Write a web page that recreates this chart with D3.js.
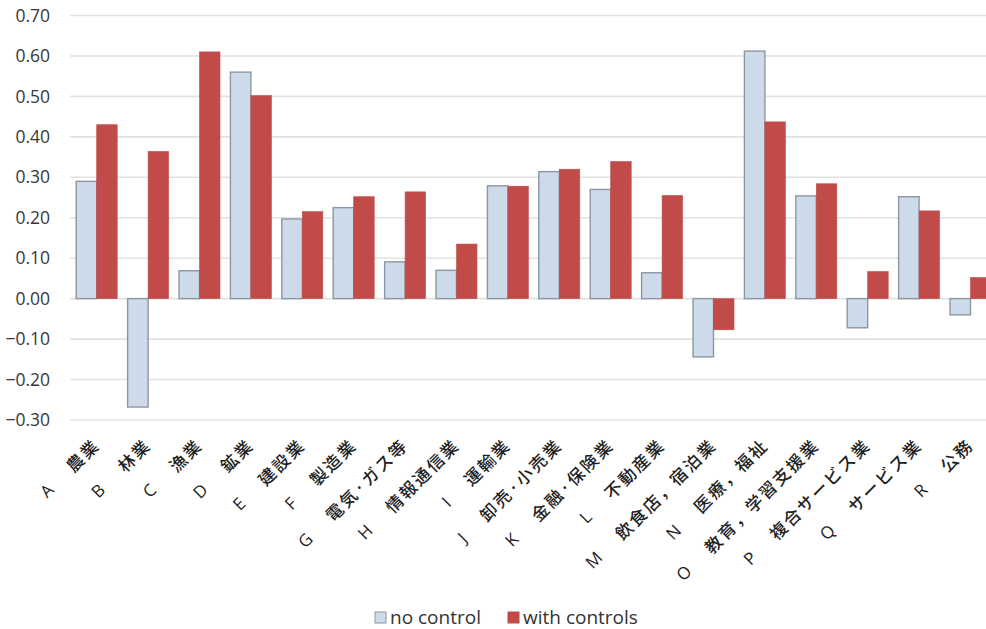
<!DOCTYPE html>
<html>
<head>
<meta charset="utf-8">
<script src="https://cdn.jsdelivr.net/npm/d3@7"></script>
<style>
  html, body { margin: 0; padding: 0; background: #fff; }
  svg { display: block; }
</style>
</head>
<body>
<svg id="chart" width="986" height="629"></svg>
<script>
// Industry codes and names (Japanese Standard Industrial Classification)
const codes = ["A","B","C","D","E","F","G","H","I","J","K","L","M","N","O","P","Q","R"];
const names = ["農業","林業","漁業","鉱業","建設業","製造業","電気·ガス等","情報通信業","運輸業",
  "卸売·小売業","金融·保険業","不動産業","飲食店，宿泊業","医療，福祉","教育，学習支援業",
  "複合サービス業","サービス業","公務"];

// Estimated coefficients per industry
const noControl    = [0.29, -0.268, 0.069, 0.56, 0.197, 0.225, 0.091, 0.070, 0.279, 0.314, 0.270, 0.064, -0.144, 0.612, 0.254, -0.072, 0.252, -0.040];
const withControls = [0.43, 0.364, 0.610, 0.502, 0.215, 0.252, 0.264, 0.135, 0.278, 0.320, 0.339, 0.255, -0.077, 0.437, 0.284, 0.067, 0.217, 0.052];

const seriesNames = ["no control", "with controls"];
const seriesColors = ["#cddaea", "#c14b49"];
const seriesStroke = ["#8d97a2", "#c14b49"];

const yTicks = [0.7, 0.6, 0.5, 0.4, 0.3, 0.2, 0.1, 0.0, -0.1, -0.2, -0.3];

const svg = d3.select("#chart");

const y = d3.scaleLinear().domain([-0.3, 0.7]).range([420, 15.5]);
const x = d3.scaleBand().domain(codes).range([71, 996.2]).padding(0);
const xs = d3.scaleBand().domain([0, 1]).range([0, x.bandwidth()]).paddingInner(0).paddingOuter(0.254);

// Gridlines
svg.append("g")
  .selectAll("line")
  .data(yTicks)
  .join("line")
  .attr("x1", 70).attr("x2", 1000)
  .attr("y1", d => y(d)).attr("y2", d => y(d))
  .attr("stroke", "#e2e2e2")
  .attr("stroke-width", 1.6);

// Y-axis tick labels
const yAxis = d3.axisLeft(y).tickValues(yTicks).tickFormat(d3.format(".2f")).tickSize(0).tickPadding(0);
const yg = svg.append("g").attr("transform", "translate(50,0)").call(yAxis);
yg.select(".domain").remove();
yg.selectAll("text")
  .attr("font-family", "'Open Sans', sans-serif")
  .attr("font-size", 17.5)
  .attr("fill", "#383838");

// Bars
const rows = codes.map((c, i) => ({ code: c, vals: [noControl[i], withControls[i]] }));
const groups = svg.append("g").selectAll("g")
  .data(rows)
  .join("g")
  .attr("transform", d => `translate(${x(d.code)},0)`);

groups.selectAll("rect")
  .data(d => d.vals.map((v, k) => ({ v, k })))
  .join("rect")
  .attr("x", d => xs(d.k))
  .attr("width", xs.bandwidth())
  .attr("y", d => y(Math.max(0, d.v)))
  .attr("height", d => Math.abs(y(d.v) - y(0)))
  .attr("fill", d => seriesColors[d.k])
  .attr("stroke", d => seriesStroke[d.k])
  .attr("stroke-width", d => d.k === 0 ? 1.4 : 0.6);

// Rotated category labels: name ends at the tick, code letter sits further down-left
const labels = svg.append("g").selectAll("g")
  .data(codes.map((c, i) => ({ code: c, name: names[i] })))
  .join("g")
  .attr("transform", d => `translate(${x(d.code) + x.bandwidth() / 2 - 1},441) rotate(-45)`);

labels.append("text")
  .attr("class", "nm")
  .attr("text-anchor", "end")
  .attr("dominant-baseline", "central")
  .attr("font-family", "'Noto Sans CJK JP', sans-serif")
  .attr("font-size", 17)
  .attr("font-weight", 500)
  .attr("letter-spacing", 2.2)
  .attr("fill", "#1e1e1e")
  .text(d => d.name);

labels.each(function () {
  const g = d3.select(this);
  const w = g.select("text.nm").node().getComputedTextLength();
  g.append("text")
    .attr("x", -(w + 26))
    .attr("text-anchor", "end")
    .attr("dominant-baseline", "central")
    .attr("font-family", "'Open Sans', sans-serif")
    .attr("font-size", 17)
    .attr("fill", "#1e1e1e")
    .text(d => d.code);
});

// Legend
const legend = svg.append("g").attr("transform", "translate(375,624)");
const items = [
  { name: seriesNames[0], k: 0, x: 0 },
  { name: seriesNames[1], k: 1, x: 133 }
];
const li = legend.selectAll("g").data(items).join("g").attr("transform", d => `translate(${d.x},0)`);
li.append("rect")
  .attr("x", 0).attr("y", -12).attr("width", 11).attr("height", 11)
  .attr("fill", d => seriesColors[d.k])
  .attr("stroke", d => seriesStroke[d.k])
  .attr("stroke-width", 1);
li.append("text")
  .attr("x", 15).attr("y", 0)
  .attr("font-family", "'Open Sans', sans-serif")
  .attr("font-size", 19)
  .attr("fill", "#333")
  .text(d => d.name);
</script>
</body>
</html>
